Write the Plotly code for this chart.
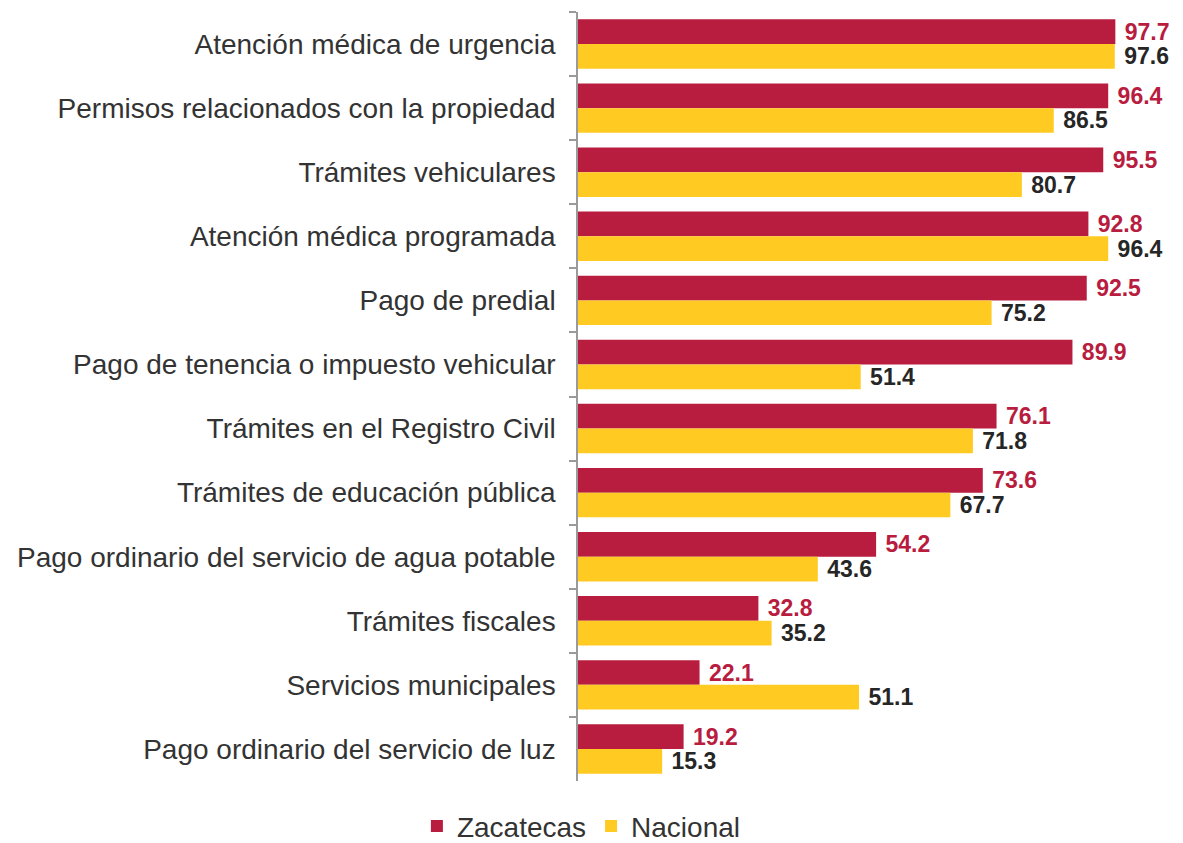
import plotly.graph_objects as go

categories = [
    "Atención médica de urgencia",
    "Permisos relacionados con la propiedad",
    "Trámites vehiculares",
    "Atención médica programada",
    "Pago de predial",
    "Pago de tenencia o impuesto vehicular",
    "Trámites en el Registro Civil",
    "Trámites de educación pública",
    "Pago ordinario del servicio de agua potable",
    "Trámites fiscales",
    "Servicios municipales",
    "Pago ordinario del servicio de luz",
]
zacatecas = [97.7, 96.4, 95.5, 92.8, 92.5, 89.9, 76.1, 73.6, 54.2, 32.8, 22.1, 19.2]
nacional = [97.6, 86.5, 80.7, 96.4, 75.2, 51.4, 71.8, 67.7, 43.6, 35.2, 51.1, 15.3]

RED = "#B81C3E"
YELLOW = "#FFCB22"
FONT = "Liberation Sans, Arial, sans-serif"
PAD = "\u00a0"

fig = go.Figure()
fig.add_trace(go.Bar(
    y=categories, x=zacatecas, name="Zacatecas", orientation="h",
    marker=dict(color=RED, line=dict(width=0)),
    text=[PAD + f"{v:.1f}" for v in zacatecas], textposition="outside",
    textfont=dict(family=FONT, size=23, color=RED, weight="bold"),
    constraintext="none", cliponaxis=False,
))
fig.add_trace(go.Bar(
    y=categories, x=nacional, name="Nacional", orientation="h",
    marker=dict(color=YELLOW, line=dict(width=0)),
    text=[PAD + f"{v:.1f}" for v in nacional], textposition="outside",
    textfont=dict(family=FONT, size=23, color="#262626", weight="bold"),
    constraintext="none", cliponaxis=False,
))

fig.update_layout(
    width=1175, height=835,
    margin=dict(l=570, r=55, t=4, b=62),
    plot_bgcolor="white", paper_bgcolor="white",
    barmode="group", bargap=0.23, bargroupgap=0,
    font=dict(family=FONT, size=28, color="#333333"),
    showlegend=True,
    legend=dict(orientation="h", x=0.488, xanchor="center", xref="container",
                y=0.02, yanchor="middle", yref="container",
                font=dict(size=28, color="#333333"), itemwidth=30, traceorder="normal"),
)
fig.update_xaxes(range=[0, 100], visible=False, showgrid=False)
fig.update_yaxes(
    autorange="reversed", showline=True, linecolor="#9A9A9A", linewidth=1.5,
    ticks="outside", ticklen=7, tickcolor="#9A9A9A", tickwidth=1.5, tickson="boundaries",
    showgrid=False, ticklabelstandoff=15, automargin=False,
    tickfont=dict(family=FONT, size=28, color="#333333"),
)

fig.write_html("out.html")
